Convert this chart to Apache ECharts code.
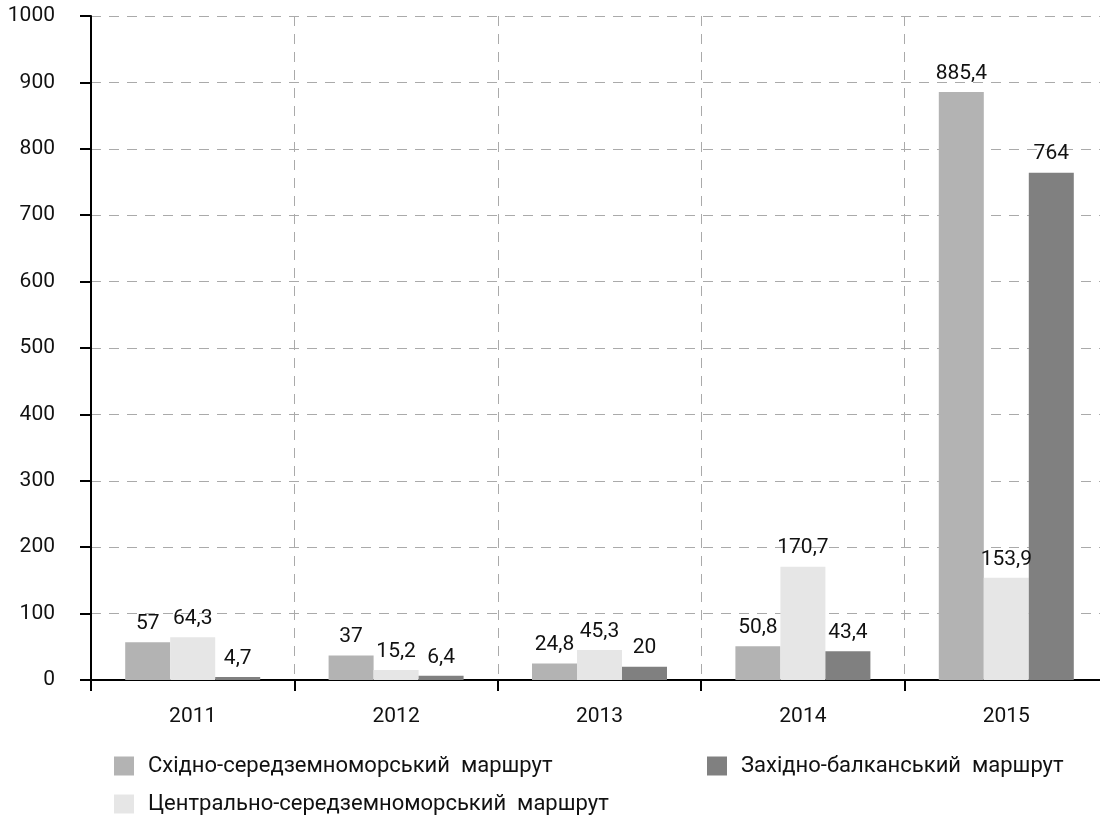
<!DOCTYPE html>
<html lang="uk">
<head>
<meta charset="utf-8">
<title>Маршрути</title>
<script src="https://cdn.jsdelivr.net/npm/echarts@6/dist/echarts.min.js"></script>
<style>
  html, body { margin: 0; padding: 0; background: #fff; }
  #main { width: 1100px; height: 816px; }
</style>
</head>
<body>
<div id="main"></div>
<script>
// роки
var years = ['2011', '2012', '2013', '2014', '2015'];
// назви маршрутів
var nameEast = 'Східно-середземноморський  маршрут';
var nameCentral = 'Центрально-середземноморський  маршрут';
var nameWest = 'Західно-балканський  маршрут';
// значення, тис.
var eastValues = [57, 37, 24.8, 50.8, 885.4];
var centralValues = [64.3, 15.2, 45.3, 170.7, 153.9];
var westValues = [4.7, 6.4, 20, 43.4, 764];

var font = 'Roboto';

function fmt(p) {
    return String(p.value).replace('.', ',');
}

function makeSeries(name, data, color) {
    return {
        name: name,
        type: 'bar',
        data: data,
        barWidth: 45,
        barGap: '0%',
        itemStyle: { color: color },
        label: {
            show: true,
            position: 'top',
            distance: 8,
            color: '#111',
            fontFamily: font,
            fontSize: 21,
            formatter: fmt
        }
    };
}

function makeLegend(name, left, top) {
    return {
        left: left,
        top: top,
        padding: 0,
        itemWidth: 20,
        itemHeight: 19,
        icon: 'rect',
        textStyle: { fontFamily: font, fontSize: 22, color: '#111', padding: [0, 0, 0, 9] },
        data: [name]
    };
}

var myChart = echarts.init(document.getElementById('main'));
var option = {
    animation: false,
    textStyle: { fontFamily: font },
    grid: { left: 91, right: -8, top: 16, bottom: 136, outerBoundsMode: 'none' },
    legend: [
        makeLegend(nameEast, 114, 755),
        makeLegend(nameCentral, 114, 793),
        makeLegend(nameWest, 707, 755)
    ],
    xAxis: {
        type: 'category',
        data: years,
        axisLine: { lineStyle: { color: '#000', width: 2 } },
        axisTick: { show: true, length: 11, lineStyle: { color: '#000', width: 2 } },
        axisLabel: { color: '#111', fontSize: 21, margin: 26, fontFamily: font },
        splitLine: { show: true, lineStyle: { color: '#aaa', type: [10, 8] } }
    },
    yAxis: {
        type: 'value',
        min: 0,
        max: 1000,
        interval: 100,
        axisLine: { show: true, lineStyle: { color: '#000', width: 2 } },
        axisTick: { show: true, length: 11, lineStyle: { color: '#000', width: 2 } },
        axisLabel: {
            color: '#111', fontSize: 21, margin: 36, fontFamily: font,
            formatter: function (v) { return String(v); }
        },
        splitLine: { show: true, lineStyle: { color: '#aaa', type: [10, 8] } }
    },
    series: [
        makeSeries(nameEast, eastValues, '#b3b3b3'),
        makeSeries(nameCentral, centralValues, '#e6e6e6'),
        makeSeries(nameWest, westValues, '#808080')
    ]
};
myChart.setOption(option);
</script>
</body>
</html>
